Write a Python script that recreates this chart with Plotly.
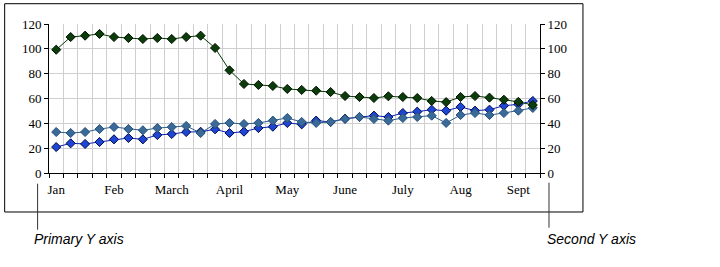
import plotly.graph_objects as go

months = ["Jan", "Feb", "March", "April", "May", "June", "July", "Aug", "Sept"]
n_weeks = 34
weeks = list(range(n_weeks))
month_positions = [0, 4, 8, 12, 16, 20, 24, 28, 32]

series_green = [99.3, 109.5, 110.6, 112, 109.5, 108.7, 107.9, 108.7, 107.9, 109.5,
                110.6, 100.7, 82.7, 71.7, 70.9, 70.1, 67.7, 66.9, 66.3, 65.2,
                62, 61.2, 60.4, 61.8, 61.2, 60.4, 58, 57.1, 61.2, 62,
                60.7, 59, 57.3, 54.8]
series_blue = [20.9, 23.9, 23.4, 25, 27.1, 28.2, 27.1, 30.6, 31.4, 33,
               33.2, 35.2, 32.2, 33.3, 36.2, 37.3, 40.3, 39.2, 42.2, 41.1,
               43.8, 45.1, 46.2, 45.1, 48.3, 49.4, 51, 50.2, 53.2, 50.2,
               51, 54.2, 55.3, 58]
series_steel = [33, 32.2, 33, 35.4, 37, 35.4, 34.4, 36.2, 37, 37.9,
                32.2, 39.5, 40.3, 39.5, 40.3, 42.2, 44.3, 41.1, 40.3, 41.1,
                43.5, 45.1, 43.5, 42.2, 44.3, 45.1, 46.2, 40.3, 46.7, 48.3,
                46.7, 48.3, 50.2, 52.4]
y_ticks = [0, 20, 40, 60, 80, 100, 120]

fig = go.Figure()
fig.add_trace(go.Scatter(x=weeks, y=series_blue, mode="lines+markers", name="Series 2",
                         line=dict(color="#0A23B4", width=1),
                         marker=dict(symbol="diamond", size=7, color="#1E46D2",
                                     line=dict(color="#000850", width=1))))
fig.add_trace(go.Scatter(x=weeks, y=series_steel, mode="lines+markers", name="Series 3",
                         line=dict(color="#2F5F8F", width=1),
                         marker=dict(symbol="diamond", size=7, color="#3A6A98",
                                     line=dict(color="#27507A", width=1))))
fig.add_trace(go.Scatter(x=weeks, y=series_green, mode="lines+markers", name="Series 1",
                         line=dict(color="#063806", width=1),
                         marker=dict(symbol="diamond", size=7, color="#0B3D0B",
                                     line=dict(color="#001000", width=1))))
# invisible trace to activate the right axis
fig.add_trace(go.Scatter(x=[weeks[0]], y=[y_ticks[0]], yaxis="y2", mode="markers",
                         marker=dict(opacity=0), showlegend=False, hoverinfo="skip"))

tick_font = dict(family="'Liberation Serif', 'Times New Roman', serif", size=13, color="black")

fig.update_layout(
    width=720, height=267,
    margin=dict(l=49, r=180, t=24, b=94),
    paper_bgcolor="white", plot_bgcolor="white",
    showlegend=False,
    xaxis=dict(range=[-0.5, n_weeks - 0.5], tickmode="array", tickvals=month_positions,
               ticktext=months, ticks="", showgrid=False, zeroline=False,
               showline=True, linecolor="black", linewidth=1,
               tickfont=tick_font, ticklabelstandoff=4,
               minor=dict(tickmode="linear", tick0=-0.5, dtick=1, ticks="outside",
                          ticklen=4, tickcolor="black", showgrid=True,
                          gridcolor="#CFCFCF", gridwidth=1)),
    yaxis=dict(range=[0, 120], tickvals=y_ticks, ticks="outside", ticklen=4,
               tickcolor="black", showline=True, linecolor="black", linewidth=1,
               showgrid=True, gridcolor="#CFCFCF", gridwidth=1, zeroline=False,
               tickfont=tick_font),
    yaxis2=dict(range=[0, 120], tickvals=y_ticks, ticks="outside", ticklen=4,
                tickcolor="black", showline=True, linecolor="black", linewidth=1,
                showgrid=False, zeroline=False, overlaying="y", side="right",
                tickfont=tick_font),
)

# outer frame
fig.add_shape(type="rect", xref="paper", yref="paper",
              x0=-0.0903, x1=1.0875, y0=-0.2617, y1=1.1362,
              line=dict(color="black", width=1), fillcolor="rgba(0,0,0,0)")
# callout lines
fig.add_shape(type="line", xref="paper", yref="paper",
              x0=-0.0232, x1=-0.0232, y0=-0.0718, y1=-0.3805,
              line=dict(color="#333333", width=1))
fig.add_shape(type="line", xref="paper", yref="paper",
              x0=1.0183, x1=1.0183, y0=-0.0651, y1=-0.3671,
              line=dict(color="#333333", width=1))

ann_font = dict(family="'Liberation Sans', Arial, sans-serif", size=14, color="black")
fig.add_annotation(text="<i>Primary Y axis</i>", xref="paper", yref="paper",
                   x=-0.034, y=-0.441, xanchor="left", yanchor="middle",
                   showarrow=False, font=ann_font)
fig.add_annotation(text="<i>Second Y axis</i>", xref="paper", yref="paper",
                   x=1.0096, y=-0.441, xanchor="left", yanchor="middle",
                   showarrow=False, font=ann_font)

fig.write_html("out.html")
